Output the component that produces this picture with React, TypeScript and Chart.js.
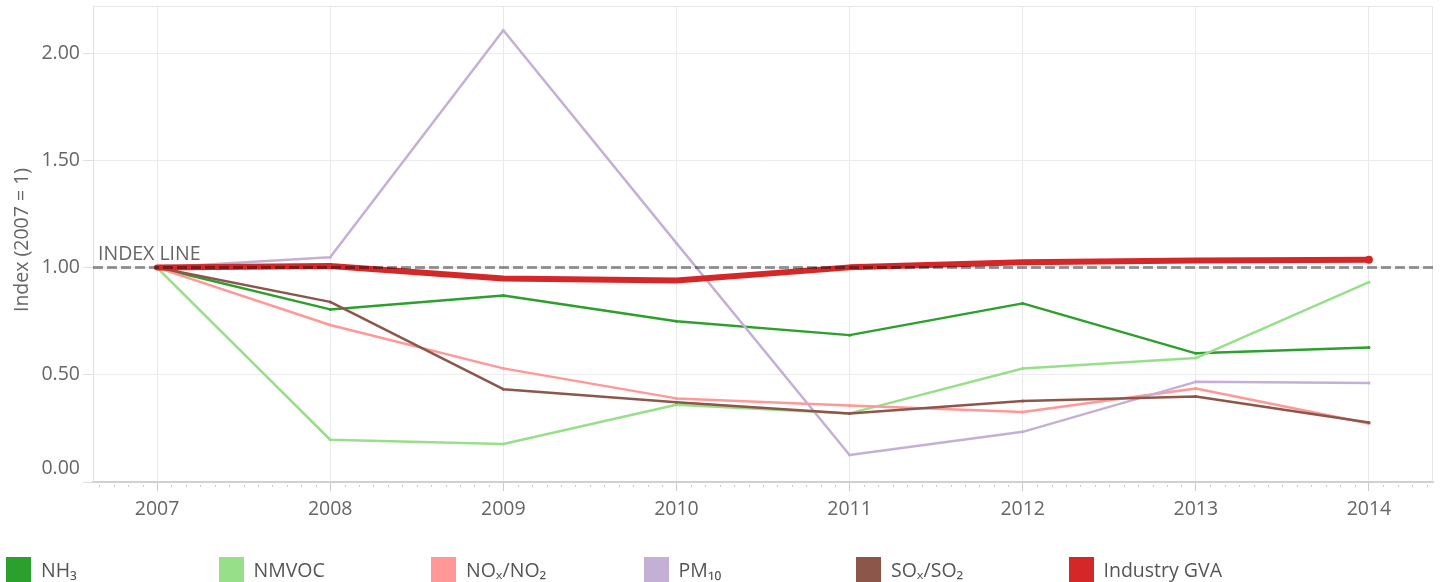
import React, { useEffect, useRef } from "react";
import { Chart, registerables } from "chart.js";

Chart.register(...registerables);

const years = [2007, 2008, 2009, 2010, 2011, 2012, 2013, 2014];
const nh3 = [1.0, 0.805, 0.87, 0.75, 0.685, 0.833, 0.6, 0.627];
const nmvoc = [1.0, 0.197, 0.177, 0.36, 0.32, 0.529, 0.578, 0.932];
const nox = [1.0, 0.732, 0.53, 0.39, 0.357, 0.327, 0.436, 0.273];
const pm10 = [1.0, 1.048, 2.107, 1.114, 0.126, 0.234, 0.467, 0.462];
const sox = [1.0, 0.84, 0.433, 0.372, 0.32, 0.378, 0.399, 0.278];
const industryGva = [1.0, 1.007, 0.949, 0.94, 1.001, 1.025, 1.033, 1.037];

const seriesNames = ["NH₃", "NMVOC", "NOₓ/NO₂", "PM₁₀", "SOₓ/SO₂", "Industry GVA"];
const seriesColors = ["#2ca02c", "#98df8a", "#ff9896", "#c5b0d5", "#8c564b", "#d62728"];
const seriesValues = [nh3, nmvoc, nox, pm10, sox, industryGva];
const yTicks = [0, 0.5, 1, 1.5, 2];
const yTitle = "Index (2007 = 1)";
const indexValue = 1;
const indexLabel = "INDEX LINE";

const FONT = "'Open Sans', 'Noto Sans', sans-serif";
const FS = 19.5;

const customPlugin = {
  id: "custom",
  beforeDatasetsDraw(chart: any) {
    const { ctx, chartArea } = chart;
    ctx.save();
    ctx.strokeStyle = "#e6e6e6";
    ctx.lineWidth = 1;
    ctx.beginPath();
    ctx.moveTo(chartArea.left, chartArea.top + 0.5);
    ctx.lineTo(chartArea.right - 0.5, chartArea.top + 0.5);
    ctx.lineTo(chartArea.right - 0.5, chartArea.bottom);
    ctx.stroke();
    ctx.restore();
  },
  afterDatasetsDraw(chart: any) {
    const { ctx, chartArea, scales } = chart;
    const y = scales.y.getPixelForValue(indexValue);
    ctx.save();
    ctx.strokeStyle = "rgba(0,0,0,0.4)";
    ctx.lineWidth = 3;
    ctx.setLineDash([10, 4]);
    ctx.beginPath();
    ctx.moveTo(chartArea.left, y);
    ctx.lineTo(chartArea.right, y);
    ctx.stroke();
    ctx.setLineDash([]);
    ctx.fillStyle = "#666";
    ctx.font = `${FS}px ${FONT}`;
    ctx.textAlign = "left";
    ctx.textBaseline = "alphabetic";
    ctx.fillText(indexLabel, chartArea.left + 5, y - 8);
    ctx.restore();
  },
  afterDraw(chart: any) {
    const { ctx, chartArea, scales } = chart;
    ctx.save();
    ctx.font = `${FS}px ${FONT}`;
    ctx.fillStyle = "#666";
    ctx.textAlign = "right";
    ctx.textBaseline = "middle";
    yTicks.forEach((v) => {
      let py = scales.y.getPixelForValue(v);
      if (v === 0) py -= 14;
      ctx.fillText(v.toFixed(2), 80, py);
    });
    // y title
    ctx.save();
    ctx.translate(22, (chartArea.top + chartArea.bottom) / 2 - 4);
    ctx.rotate(-Math.PI / 2);
    ctx.textAlign = "center";
    ctx.textBaseline = "middle";
    ctx.fillText(yTitle, 0, 0);
    ctx.restore();
    // minor x ticks (monthly)
    ctx.fillStyle = "#c8c8c8";
    const x0 = scales.x.min;
    const x1 = scales.x.max;
    for (let k = Math.ceil((x0 - years[0]) * 12); years[0] + k / 12 <= x1; k++) {
      if (k % 12 === 0) continue;
      const px = scales.x.getPixelForValue(years[0] + k / 12);
      ctx.fillRect(Math.round(px), chartArea.bottom + 3, 1, 2);
    }
    ctx.restore();
  },
};

export default function App() {
  const canvasRef = useRef<HTMLCanvasElement | null>(null);

  useEffect(() => {
    document.body.style.margin = "0";
    const canvas = canvasRef.current;
    if (!canvas) return;
    const n = seriesNames.length;
    const datasets = seriesNames.map((name, i) => {
      const isGva = i === n - 1;
      return {
        label: name,
        data: years.map((yr, j) => ({ x: yr, y: seriesValues[i][j] })),
        borderColor: seriesColors[i],
        backgroundColor: seriesColors[i],
        borderWidth: isGva ? 6 : 2.5,
        pointRadius: isGva ? years.map((_, j) => (j === years.length - 1 ? 4 : 1.5)) : 1.5,
        pointBorderWidth: 0,
        pointBackgroundColor: seriesColors[i],
        tension: 0,
        fill: false,
        order: n - i,
        borderCapStyle: "round" as const,
        borderJoinStyle: "round" as const,
      };
    });
    const chart = new Chart(canvas, {
      type: "line",
      data: { datasets },
      options: {
        animation: false,
        responsive: false,
        maintainAspectRatio: false,
        layout: { padding: { top: 6, right: 7, left: 0, bottom: 0 } },
        plugins: {
          legend: { display: false },
          tooltip: { enabled: false },
        },
        scales: {
          x: {
            type: "linear",
            min: years[0] - 0.37,
            max: years[years.length - 1] + 0.37,
            afterFit: (s: any) => {
              s.height = 100;
            },
            border: { color: "#d0d0d0", width: 2 },
            grid: {
              color: "#e9e9e9",
              tickColor: "#cccccc",
              tickLength: 9,
              drawTicks: true,
            },
            ticks: {
              stepSize: 1,
              includeBounds: false,
              autoSkip: false,
              maxRotation: 0,
              padding: 7,
              color: "#666",
              font: { family: FONT, size: FS },
              callback: (v: any) => String(v),
            },
          },
          y: {
            type: "linear",
            min: 0,
            max: 2.22,
            afterFit: (s: any) => {
              s.width = 93;
            },
            border: { color: "#e0e0e0", width: 1 },
            grid: {
              color: "#ececec",
              tickColor: "#e0e0e0",
              tickLength: 10,
              drawTicks: true,
            },
            ticks: {
              stepSize: 0.5,
              includeBounds: false,
              display: false,
            },
          },
        },
      },
      plugins: [customPlugin],
    });
    return () => chart.destroy();
  }, []);

  return (
    <div style={{ position: "relative", width: 1440, height: 582, overflow: "hidden", fontFamily: FONT }}>
      <canvas ref={canvasRef} width={1440} height={582} style={{ position: "absolute", left: 0, top: 0 }} />
      {seriesNames.map((name, i) => (
        <div
          key={name}
          style={{
            position: "absolute",
            left: 6 + i * 212.5,
            top: 557,
            height: 25,
            display: "flex",
            alignItems: "center",
            whiteSpace: "nowrap",
          }}
        >
          <div style={{ width: 25, height: 25, background: seriesColors[i] }} />
          <span style={{ marginLeft: 10, fontSize: FS, color: "#555", lineHeight: "25px" }}>{name}</span>
        </div>
      ))}
    </div>
  );
}
